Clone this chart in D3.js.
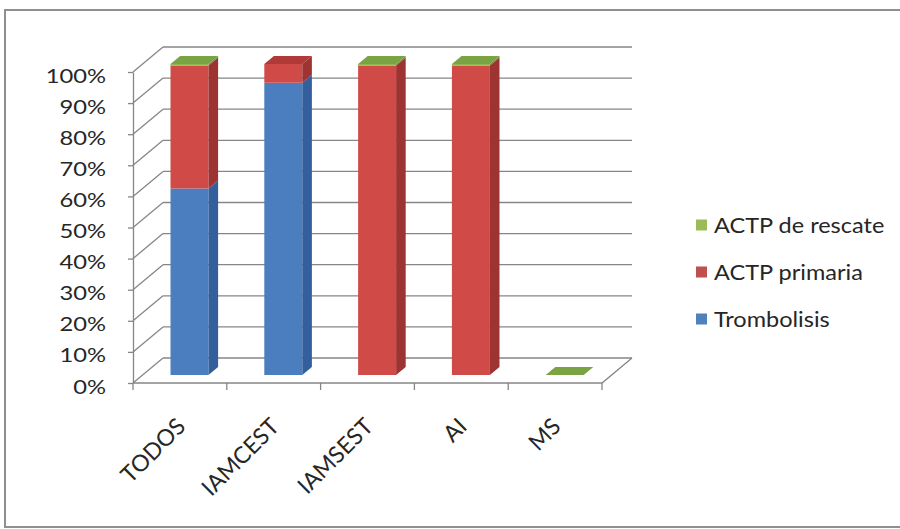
<!DOCTYPE html>
<html>
<head>
<meta charset="utf-8">
<script src="https://cdn.jsdelivr.net/npm/d3@7"></script>
<style>
  html, body { margin: 0; padding: 0; background: #fff; }
  svg { display: block; }
  text { font-family: Lato, "Open Sans", sans-serif; fill: #262626; }
</style>
</head>
<body>
<svg id="chart" width="900" height="529"></svg>
<script>
// Categories and stacked series (percent of each group)
const categories = ["TODOS", "IAMCEST", "IAMSEST", "AI", "MS"];
const trombolisis = [60, 94, 0, 0, 0];
const actpPrimaria = [39.5, 6, 99.5, 99.5, 0];
const actpRescate = [0.5, 0, 0.5, 0.5, 0];
const seriesNames = ["Trombolisis", "ACTP primaria", "ACTP de rescate"];
const yTicks = [0, 10, 20, 30, 40, 50, 60, 70, 80, 90, 100];

const seriesValues = [trombolisis, actpPrimaria, actpRescate];
const faceColors = [
  { front: "#4a7ebf", side: "#33609c", top: "#3f6fae", key: "#4f81bd" },
  { front: "#d04a48", side: "#9e3432", top: "#b03a38", key: "#c0504d" },
  { front: "#8fb84e", side: "#6a8c35", top: "#7aa443", key: "#9bbb59" }
];

const svg = d3.select("#chart");

// Outer chart border
svg.append("rect")
  .attr("x", 5).attr("y", 10).attr("width", 900).attr("height", 517)
  .attr("fill", "#fff").attr("stroke", "#8f8f8f").attr("stroke-width", 2);

// 3D plot frame: front plane plus a depth vector to the back wall
const left = 133, right = 602;
const depth = { dx: 30, dy: -25 };
const barFront = 0.32, barBack = 0.64;

const x = d3.scaleBand().domain(categories).range([left, right]).paddingInner(0).paddingOuter(0);
const y = d3.scaleLinear().domain([0, 100]).range([383, 72]);
const barW = x.bandwidth() * 0.405;

const gridColor = "#868686";
const frame = svg.append("g").attr("stroke", gridColor).attr("stroke-width", 1.3).attr("fill", "none");

// Back wall gridlines and side wall diagonals
yTicks.forEach(v => {
  frame.append("line")
    .attr("x1", left + depth.dx).attr("x2", right + depth.dx)
    .attr("y1", y(v) + depth.dy).attr("y2", y(v) + depth.dy);
  frame.append("line")
    .attr("x1", left).attr("y1", y(v))
    .attr("x2", left + depth.dx).attr("y2", y(v) + depth.dy);
});

// Floor front and right edges
frame.append("path")
  .attr("d", `M${left},${y(0)}L${right},${y(0)}L${right + depth.dx},${y(0) + depth.dy}`);

// Y axis
const yAxis = d3.axisLeft(y).tickValues(yTicks).tickFormat(d => d + "%").tickSize(5).tickSizeOuter(0);
const yg = svg.append("g").attr("transform", `translate(${left},0)`).call(yAxis);
yg.select(".domain").attr("stroke", gridColor).attr("stroke-width", 1.3);
yg.selectAll(".tick line").attr("stroke", gridColor).attr("stroke-width", 1.3);
yg.selectAll(".tick text")
  .attr("x", 0).attr("dy", null).attr("y", 0)
  .attr("dominant-baseline", "central")
  .attr("transform", "translate(-27,3) scale(1.25,1)")
  .style("font-size", "19px").style("font-family", "Lato, sans-serif").attr("fill", "#262626");

// Category ticks at band edges
const edges = categories.map(c => x(c)).concat([right]);
svg.append("g").selectAll("line").data(edges).join("line")
  .attr("x1", d => d).attr("x2", d => d)
  .attr("y1", y(0)).attr("y2", y(0) + 7)
  .attr("stroke", gridColor).attr("stroke-width", 1.3);

// Category labels, rotated
svg.append("g").selectAll("text").data(categories).join("text")
  .attr("transform", d => `translate(${x(d) + x.bandwidth() / 2 + 7},428) rotate(-45)`)
  .attr("text-anchor", "end")
  .style("font-size", "23px")
  .text(d => d);

// Stacked 3D bars
const rows = categories.map((c, i) => {
  const r = { cat: c };
  seriesNames.forEach((s, k) => { r[s] = seriesValues[k][i]; });
  return r;
});
const stacked = d3.stack().keys(seriesNames)(rows);

const bars = svg.append("g");
const pt = (px, py, t) => [px + depth.dx * t, py + depth.dy * t];
const poly = pts => "M" + pts.map(p => p.join(",")).join("L") + "Z";

categories.forEach((c, i) => {
  const cx = x(c) + x.bandwidth() / 2;
  const xl = cx - barW / 2, xr = cx + barW / 2;
  const g = bars.append("g");
  let topIdx = -1;
  stacked.forEach((s, k) => { if (s[i][1] - s[i][0] > 0) topIdx = k; });
  stacked.forEach((s, k) => {
    const v0 = s[i][0], v1 = s[i][1];
    if (v1 - v0 <= 0) return;
    const yb = y(v0), yt = y(v1);
    const col = faceColors[k];
    // front face
    g.append("path").attr("fill", col.front)
      .attr("d", poly([pt(xl, yb, barFront), pt(xr, yb, barFront), pt(xr, yt, barFront), pt(xl, yt, barFront)]));
    // right side face
    g.append("path").attr("fill", col.side)
      .attr("d", poly([pt(xr, yb, barFront), pt(xr, yb, barBack), pt(xr, yt, barBack), pt(xr, yt, barFront)]));
  });
  // top face of the stack
  const k = topIdx >= 0 ? topIdx : stacked.length - 1;
  const yt = y(stacked[k][i][1]);
  g.append("path").attr("fill", faceColors[k].top)
    .attr("d", poly([pt(xl, yt, barFront), pt(xr, yt, barFront), pt(xr, yt, barBack), pt(xl, yt, barBack)]));
});

// Legend
const legendOrder = [2, 1, 0];
const leg = svg.append("g").selectAll("g").data(legendOrder).join("g")
  .attr("transform", (d, j) => `translate(696,${225 + j * 47})`);
leg.append("rect").attr("x", 0).attr("y", -5.5).attr("width", 11).attr("height", 11)
  .attr("fill", d => faceColors[d].key);
leg.append("text")
  .attr("transform", "translate(18,0) scale(1.12,1)")
  .attr("dominant-baseline", "central")
  .style("font-size", "21px")
  .text(d => seriesNames[d]);
</script>
</body>
</html>
